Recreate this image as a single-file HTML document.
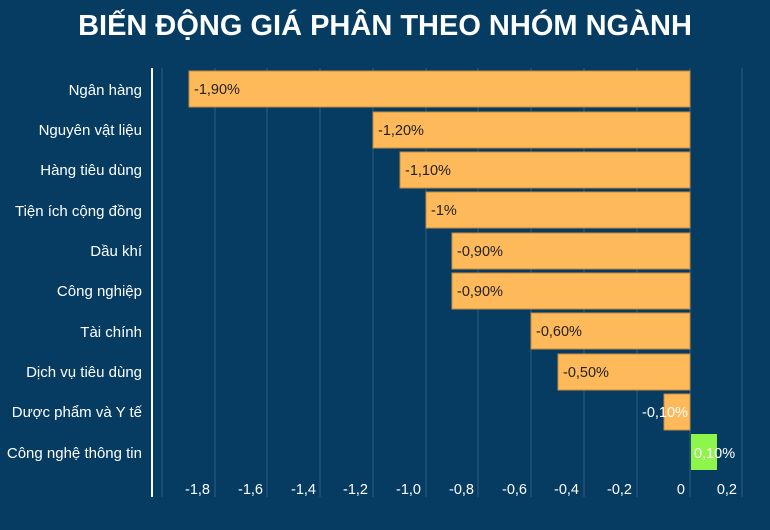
<!DOCTYPE html>
<html><head><meta charset="utf-8"><style>
body{margin:0;width:770px;height:525px;background:#063c62;overflow:hidden;font-family:"Liberation Sans",sans-serif;}
</style></head><body>
<svg width="770" height="525" xmlns="http://www.w3.org/2000/svg" font-family="Liberation Sans, sans-serif">
<rect width="770" height="525" fill="#063c62"/>
<text x="385" y="35" text-anchor="middle" font-size="29" font-weight="bold" fill="#fff">BIẾN ĐỘNG GIÁ PHÂN THEO NHÓM NGÀNH</text>
<g stroke="#2f5e80" stroke-width="1">
<line x1="162" y1="68" x2="162" y2="497"/><line x1="215" y1="68" x2="215" y2="497"/><line x1="267" y1="68" x2="267" y2="497"/><line x1="320" y1="68" x2="320" y2="497"/><line x1="373" y1="68" x2="373" y2="497"/><line x1="426" y1="68" x2="426" y2="497"/><line x1="478" y1="68" x2="478" y2="497"/><line x1="531" y1="68" x2="531" y2="497"/><line x1="584" y1="68" x2="584" y2="497"/><line x1="637" y1="68" x2="637" y2="497"/><line x1="690" y1="68" x2="690" y2="497"/><line x1="742" y1="68" x2="742" y2="497"/>
</g>
<line x1="152" y1="68" x2="152" y2="497" stroke="#fff" stroke-width="2"/>
<g fill="#fdb95a" stroke="#c98a3a" stroke-width="1">
<rect x="189" y="71" width="501" height="36"/>
<rect x="373" y="112" width="317" height="36"/>
<rect x="400" y="152" width="290" height="36"/>
<rect x="426" y="192" width="264" height="36"/>
<rect x="452" y="233" width="238" height="36"/>
<rect x="452" y="273" width="238" height="36"/>
<rect x="531" y="313" width="159" height="36"/>
<rect x="558" y="354" width="132" height="36"/>
<rect x="664" y="394" width="26" height="36"/>
</g>
<rect x="691" y="434" width="26" height="36" fill="#8ef54a"/>
<g font-size="14.5" fill="#222">
<text x="194" y="94">-1,90%</text>
<text x="378" y="135">-1,20%</text>
<text x="405" y="175">-1,10%</text>
<text x="431" y="215">-1%</text>
<text x="457" y="256">-0,90%</text>
<text x="457" y="296">-0,90%</text>
<text x="536" y="336">-0,60%</text>
<text x="563" y="377">-0,50%</text>
</g>
<g font-size="14.5" fill="#fff">
<text x="642" y="417">-0,10%</text>
<text x="694" y="458">0,10%</text>
</g>
<g font-size="15" fill="#fff" text-anchor="end">
<text x="142" y="95">Ngân hàng</text>
<text x="142" y="135">Nguyên vật liệu</text>
<text x="142" y="175">Hàng tiêu dùng</text>
<text x="142" y="216">Tiện ích cộng đồng</text>
<text x="142" y="256">Dầu khí</text>
<text x="142" y="296">Công nghiệp</text>
<text x="142" y="337">Tài chính</text>
<text x="142" y="377">Dịch vụ tiêu dùng</text>
<text x="142" y="417">Dược phẩm và Y tế</text>
<text x="142" y="458">Công nghệ thông tin</text>
</g>
<g font-size="14.5" fill="#fff" text-anchor="end">
<text x="210" y="494">-1,8</text><text x="263" y="494">-1,6</text><text x="316" y="494">-1,4</text><text x="368" y="494">-1,2</text><text x="421" y="494">-1,0</text><text x="474" y="494">-0,8</text><text x="527" y="494">-0,6</text><text x="579" y="494">-0,4</text><text x="632" y="494">-0,2</text><text x="685" y="494">0</text><text x="737" y="494">0,2</text>
</g>
</svg>
</body></html>
